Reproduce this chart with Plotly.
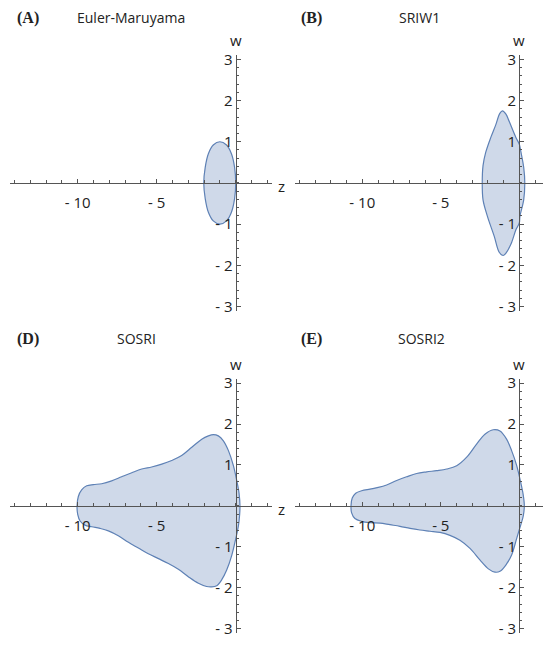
import plotly.graph_objects as go

# ---------------- data (boundary points) ----------------
titles = ["Euler-Maruyama", "SRIW1", "SOSRI", "SOSRI2"]
tags = ["(A)", "(B)", "(D)", "(E)"]

em_z = [0.0, -0.07, -0.27, -0.58, -1.0, -1.42, -1.73, -1.93, -2.02, -1.93, -1.73, -1.42, -1.0, -0.58, -0.27, -0.07]
em_w = [0.0, 0.38, 0.71, 0.92, 1.0, 0.92, 0.71, 0.38, 0.0, -0.38, -0.71, -0.92, -1.0, -0.92, -0.71, -0.38]

sriw1_z = [0.35, 0.28, 0.11, 0.0, -0.21, -0.64, -0.85, -1.07, -1.24, -1.5, -1.82, -2.14, -2.31, -2.36,
           -2.31, -2.03, -1.6, -1.28, -1.03, -0.85, -0.53, -0.21, 0.0, 0.04, 0.28]
sriw1_w = [0.0, 0.38, 0.74, 0.94, 1.10, 1.49, 1.67, 1.75, 1.69, 1.41, 1.10, 0.74, 0.42, 0.0,
           -0.41, -0.81, -1.29, -1.68, -1.76, -1.70, -1.48, -1.13, -0.97, -0.81, -0.41]

sosri_z = [0.27, 0.21, 0.06, -0.15, -0.46, -0.78, -1.10, -1.41, -1.73, -2.15, -2.78, -3.42, -4.05, -4.68,
           -5.32, -5.95, -6.58, -7.22, -7.85, -8.48, -9.01, -9.43, -9.75, -9.96, -10.04,
           -10.0, -9.85, -9.54, -9.11, -8.59, -8.06, -7.43, -6.79, -6.16, -5.53, -4.89, -4.26, -3.63,
           -3.0, -2.36, -1.84, -1.52, -1.20, -0.89, -0.57, -0.25, 0.0, 0.17, 0.25]
sosri_w = [0.0, 0.31, 0.63, 0.99, 1.35, 1.59, 1.71, 1.74, 1.71, 1.63, 1.43, 1.23, 1.11, 1.02,
           0.95, 0.90, 0.81, 0.71, 0.61, 0.54, 0.52, 0.49, 0.39, 0.23, 0.0,
           -0.21, -0.37, -0.47, -0.51, -0.55, -0.61, -0.73, -0.89, -1.03, -1.17, -1.29, -1.41, -1.55,
           -1.73, -1.89, -1.97, -1.98, -1.95, -1.81, -1.57, -1.21, -0.81, -0.49, -0.21]

sosri2_z = [0.32, 0.25, 0.08, -0.17, -0.49, -0.81, -1.23, -1.66, -2.19, -2.72, -3.35, -3.99, -4.63, -5.27,
            -5.90, -6.54, -7.18, -7.81, -8.45, -8.98, -9.51, -10.04, -10.42, -10.64, -10.72,
            -10.68, -10.47, -10.04, -9.51, -8.87, -8.24, -7.60, -6.96, -6.33, -5.69, -5.05, -4.42, -3.78,
            -3.14, -2.51, -1.97, -1.55, -1.23, -0.81, -0.49, -0.17, 0.08, 0.25]
sosri2_w = [0.0, 0.27, 0.59, 0.99, 1.35, 1.63, 1.83, 1.86, 1.75, 1.51, 1.19, 0.98, 0.90, 0.86,
            0.83, 0.79, 0.71, 0.62, 0.51, 0.45, 0.41, 0.37, 0.31, 0.19, 0.0,
            -0.17, -0.31, -0.38, -0.41, -0.42, -0.46, -0.50, -0.55, -0.59, -0.62, -0.65, -0.72, -0.84,
            -1.04, -1.32, -1.54, -1.62, -1.60, -1.42, -1.20, -0.80, -0.48, -0.25]

x_tickvals = [-10, -5]
x_ticktext = ["- 10", "- 5"]
y_tickvals = [-3, -2, -1, 1, 2, 3]
y_ticktext = ["- 3", "- 2", "- 1", "1", "2", "3"]

shapes_z = [em_z, sriw1_z, sosri_z, sosri2_z]
shapes_w = [em_w, sriw1_w, sosri_w, sosri2_w]

# ---------------- layout geometry (pixels) ----------------
W, H = 543, 646
AX = "#555555"
EDGE = "#5E81B5"
FILL = "#CFD9E9"
FONT = "Open Sans"

# (origin_x_px, px_per_unit_x, xrange, origin_y_px, px_per_unit_y, yrange)
geo = [
    (235.7, 15.8, [-14.3, 2.3], 179.3, 42.0, [-3.1, 3.1]),
    (519.3, 15.7, [-14.3, 1.5], 179.3, 42.0, [-3.1, 3.1]),
    (235.7, 15.8, [-14.3, 2.3], 508.3, 41.7, [-3.1, 3.1]),
    (519.3, 15.7, [-14.3, 1.5], 508.3, 41.7, [-3.1, 3.1]),
]
show_z = [True, False, True, False]   # right-hand panels have their "z" cut off in the reference
title_pos = [(130.5, 11), (419, 11), (136.5, 338), (421, 338)]
tag_pos = [(27.5, 11), (311, 11), (27.5, 338), (311, 338)]

fig = go.Figure()
layout = dict(width=W, height=H, margin=dict(l=0, r=0, t=0, b=0),
              paper_bgcolor="white", plot_bgcolor="rgba(0,0,0,0)", showlegend=False)
annotations = []

for i in range(4):
    ox, sx, xr, oy, sy, yr = geo[i]
    x0 = (ox + xr[0] * sx) / W
    x1 = min((ox + xr[1] * sx) / W, 1.0)
    ytop = oy - yr[1] * sy
    ybot = oy - yr[0] * sy
    y0 = (H - ybot) / H
    y1 = (H - ytop) / H
    xpos = x0 + (0 - xr[0]) / (xr[1] - xr[0]) * (x1 - x0)
    ypos = y0 + (0 - yr[0]) / (yr[1] - yr[0]) * (y1 - y0)
    sfx = "" if i == 0 else str(i + 1)

    layout["xaxis" + sfx] = dict(
        domain=[x0, x1], range=xr, anchor="free", position=ypos,
        showline=True, linecolor=AX, linewidth=1.3, layer="above traces",
        ticks="inside", ticklen=4, tickwidth=1, tickcolor=AX,
        tickmode="array", tickvals=x_tickvals, ticktext=x_ticktext,
        tickfont=dict(family=FONT, size=15, color="#222"), ticklabelstandoff=6,
        minor=dict(dtick=1, tick0=0, ticks="inside", ticklen=3, tickcolor=AX, showgrid=False),
        showgrid=False, zeroline=False, fixedrange=True)
    layout["yaxis" + sfx] = dict(
        domain=[y0, y1], range=yr, anchor="free", position=xpos,
        showline=True, linecolor=AX, linewidth=1.3, layer="above traces",
        ticks="inside", ticklen=4, tickwidth=1, tickcolor=AX,
        tickmode="array", tickvals=y_tickvals, ticktext=y_ticktext,
        tickfont=dict(family=FONT, size=15, color="#222"),
        minor=dict(dtick=0.2, tick0=0, ticks="inside", ticklen=2, tickcolor=AX, showgrid=False),
        showgrid=False, zeroline=False, fixedrange=True)

    z = list(shapes_z[i]) + [shapes_z[i][0]]
    w = list(shapes_w[i]) + [shapes_w[i][0]]
    fig.add_trace(go.Scatter(x=z, y=w, mode="lines", fill="toself", fillcolor=FILL,
                             line=dict(color=EDGE, width=1.2, shape="spline", smoothing=1),
                             hoverinfo="skip", xaxis="x" + sfx, yaxis="y" + sfx))

    xa = "x" + sfx
    ya = "y" + sfx
    annotations.append(dict(x=0, y=yr[1], xref=xa, yref=ya, text="w", showarrow=False,
                            xanchor="center", yanchor="bottom", yshift=3,
                            font=dict(family=FONT, size=15, color="#222")))
    if show_z[i]:
        annotations.append(dict(x=xr[1], y=0, xref=xa, yref=ya, text="z", showarrow=False,
                                xanchor="left", yanchor="middle", xshift=4, yshift=-3,
                                font=dict(family=FONT, size=15, color="#222")))
    tx, ty = title_pos[i]
    annotations.append(dict(x=tx / W, y=(H - ty) / H, xref="paper", yref="paper", text=titles[i],
                            showarrow=False, xanchor="center", yanchor="middle",
                            font=dict(family=FONT, size=14, color="#222")))
    gx, gy = tag_pos[i]
    annotations.append(dict(x=gx / W, y=(H - gy) / H, xref="paper", yref="paper",
                            text="<b>" + tags[i] + "</b>", showarrow=False,
                            xanchor="center", yanchor="middle",
                            font=dict(family="Liberation Serif", size=16, color="#222")))

layout["annotations"] = annotations
fig.update_layout(**layout)
fig.write_html("out.html", config={"displayModeBar": False},
               post_script="document.body.style.margin='0';document.body.style.overflow='hidden';")
